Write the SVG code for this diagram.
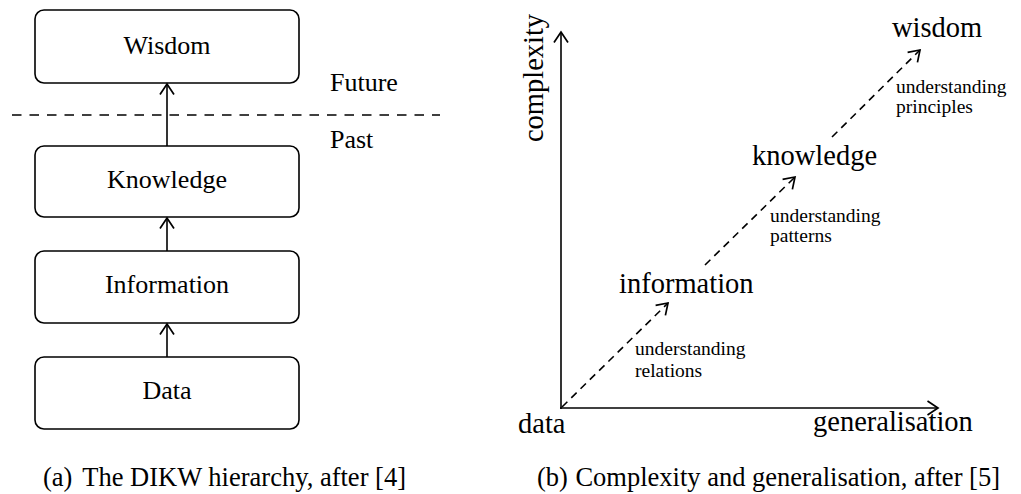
<svg xmlns="http://www.w3.org/2000/svg" width="1021" height="494" viewBox="0 0 1021 494">
<style>
text{font-family:"Liberation Serif","Times New Roman",serif;fill:#000}
.box{fill:#fff;stroke:#000;stroke-width:1.6}
.lbl{font-size:26px;text-anchor:middle}
.side{font-size:26px}
.big{font-size:28.5px}
.small{font-size:19.5px}
.cap{font-size:26.5px}
.solid{stroke:#000;stroke-width:1.6;fill:none}
.dash{stroke:#000;stroke-width:1.6;fill:none;stroke-dasharray:7.5 5.5}
.sep{stroke:#000;stroke-width:1.4;fill:none;stroke-dasharray:9.5 8}
</style>
<defs>
<marker id="ah" viewBox="-12 -8 14 16" refX="0" refY="0" markerWidth="14" markerHeight="16" markerUnits="userSpaceOnUse" orient="auto">
<path d="M-10.5,-7 L0,0 L-10.5,7" fill="none" stroke="#000" stroke-width="1.7" stroke-linejoin="miter"/>
</marker>
</defs>
<g id="panel-a">
<g id="node-wisdom"><rect class="box" x="35" y="10" width="264" height="73" rx="9"/><text class="lbl" x="167" y="54">Wisdom</text></g>
<g id="node-knowledge"><rect class="box" x="35" y="146" width="264" height="71" rx="9"/><text class="lbl" x="167" y="188">Knowledge</text></g>
<g id="node-information"><rect class="box" x="35" y="251" width="264" height="72" rx="9"/><text class="lbl" x="167" y="293">Information</text></g>
<g id="node-data"><rect class="box" x="35" y="357" width="264" height="72" rx="9"/><text class="lbl" x="167" y="399">Data</text></g>
<text class="side" x="330" y="91">Future</text>
<text class="side" x="330" y="148">Past</text>
<g id="connectors-a">
<line class="sep" x1="12" y1="115" x2="440" y2="115"/>
<line class="solid" x1="167" y1="146" x2="167" y2="84" marker-end="url(#ah)"/>
<line class="solid" x1="167" y1="251" x2="167" y2="218" marker-end="url(#ah)"/>
<line class="solid" x1="167" y1="357" x2="167" y2="324" marker-end="url(#ah)"/>
</g>
<text class="cap" x="43" y="486">(a)</text>
<text class="cap" x="406" y="486" text-anchor="end">The DIKW hierarchy, after [4]</text>
</g>
<g id="panel-b">
<g id="connectors-b">
<line class="solid" x1="561" y1="409" x2="561" y2="32" marker-end="url(#ah)"/>
<line class="solid" x1="560" y1="408" x2="938" y2="408" marker-end="url(#ah)"/>
<line class="dash" x1="562" y1="407" x2="668" y2="303" marker-end="url(#ah)"/>
<line class="dash" x1="705" y1="265" x2="795" y2="177" marker-end="url(#ah)"/>
<line class="dash" x1="832" y1="137" x2="920" y2="50" marker-end="url(#ah)"/>
</g>
<text class="big" transform="translate(543,78) rotate(-90)" text-anchor="middle">complexity</text>
<text class="big" x="813" y="431">generalisation</text>
<g id="node-data-b"><text class="big" x="518" y="433">data</text></g>
<g id="node-information-b"><text class="big" x="619" y="293">information</text></g>
<g id="node-knowledge-b"><text class="big" x="752" y="165">knowledge</text></g>
<g id="node-wisdom-b"><text class="big" x="892" y="37">wisdom</text></g>
<text class="small" x="635" y="355">understanding</text>
<text class="small" x="635" y="377">relations</text>
<text class="small" x="770" y="222">understanding</text>
<text class="small" x="770" y="242">patterns</text>
<text class="small" x="896" y="93">understanding</text>
<text class="small" x="896" y="113">principles</text>
<text class="cap" x="537" y="486">(b)</text>
<text class="cap" x="1000" y="486" text-anchor="end">Complexity and generalisation, after [5]</text>
</g>
</svg>
